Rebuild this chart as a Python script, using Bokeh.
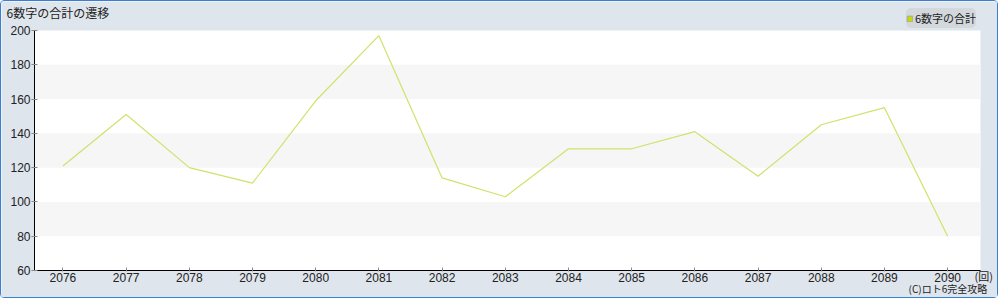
from bokeh.plotting import figure
from bokeh.models import (Range1d, FixedTicker, Label, Legend, LegendItem,
                          ColumnDataSource, LinearAxis)
from bokeh.embed import file_html
from bokeh.resources import INLINE

draws = [2076, 2077, 2078, 2079, 2080, 2081, 2082, 2083, 2084, 2085, 2086, 2087, 2088, 2089, 2090]
sums = [121, 151, 120, 111, 159, 197, 114, 103, 131, 131, 141, 115, 145, 155, 80]
y_ticks = [60, 80, 100, 120, 140, 160, 180, 200]
title_text = "6数字の合計の遷移"
series_name = "6数字の合計"
unit_text = "(回)"
credit_text = "(C)ロト6完全攻略"

FONT = "Noto Sans CJK JP"
BG = "#dfe5ec"
TXT = "#222222"
W, H = 998, 298

# plot-area extent in data units
x0, x1 = draws[0] - 0.45, draws[-1] + 0.52
y0, y1 = y_ticks[0], y_ticks[-1]
# plot area occupies canvas px [33, 979] x [29, 269]; the frame covers the whole canvas
sx = (x1 - x0) / 946.0
sy = (y1 - y0) / 240.0
xr = Range1d(x0 - 33 * sx, x1 + (W - 979) * sx)
yr = Range1d(y0 - (H - 269) * sy, y1 + 29 * sy)

p = figure(width=W, height=H, output_backend="svg", toolbar_location=None,
           x_range=xr, y_range=yr, x_axis_type=None, y_axis_type=None, min_border=0)
p.styles = {"border": "1px solid #3b7fd0", "border-radius": "4px"}
p.border_fill_color = BG
p.background_fill_color = BG
p.outline_line_color = None

# white plot area and light striped bands between alternate y ticks
p.quad(left=[x0], right=[x1], bottom=[y0], top=[y1], fill_color="white", line_color=None)
p.quad(left=x0, right=x1, bottom=y_ticks[1:-1:2], top=y_ticks[2::2],
       fill_color="#f6f6f6", line_color=None)

src = ColumnDataSource(dict(x=draws, y=sums))
p.line("x", "y", source=src, line_color="#cde36a", line_width=1.2)

xaxis = LinearAxis(ticker=FixedTicker(ticks=draws), fixed_location=y0, bounds=(x0, x1))
yaxis = LinearAxis(ticker=FixedTicker(ticks=y_ticks), fixed_location=x0, bounds=(y0, y1))
for ax in (xaxis, yaxis):
    ax.axis_line_color = "black"
    ax.major_tick_line_color = "#888888"
    ax.major_tick_in = 3
    ax.major_tick_out = 3
    ax.minor_tick_line_color = None
    ax.major_label_text_font = "Liberation Sans"
    ax.major_label_text_font_size = "12px"
    ax.major_label_text_color = TXT
xaxis.major_tick_out = 1
xaxis.major_label_standoff = 1
yaxis.major_label_standoff = 1
p.add_layout(xaxis, "below")
p.add_layout(yaxis, "left")

# texts (screen px from the canvas bottom-left)
p.add_layout(Label(x=5, y=287, x_units="screen", y_units="screen", text=title_text,
                   text_baseline="middle", text_font=FONT, text_font_size="12px",
                   text_color=TXT))
p.add_layout(Label(x=973, y=24, x_units="screen", y_units="screen", text=unit_text,
                   text_baseline="middle", text_font=FONT, text_font_size="11px",
                   text_color=TXT))
p.add_layout(Label(x=907, y=11, x_units="screen", y_units="screen", text=credit_text,
                   text_baseline="middle", text_font=FONT, text_font_size="10px",
                   text_color=TXT))

nan = float("nan")
swatch_src = ColumnDataSource(dict(l=[nan], r=[nan], t=[nan], b=[nan]))
swatch = p.quad(left="l", right="r", top="t", bottom="b", source=swatch_src,
                fill_color="#c4dc00", line_color="#a0a8a0", line_width=1)
legend = Legend(items=[LegendItem(label=series_name, renderers=[swatch])],
                location=(905, 271), orientation="horizontal",
                background_fill_color="#d3d8dd", background_fill_alpha=1,
                border_line_color=None, border_radius=5,
                label_text_font=FONT, label_text_font_size="11px", label_text_color=TXT,
                glyph_width=7, glyph_height=7, label_standoff=2,
                padding=4, margin=0, spacing=0, label_height=20)
p.add_layout(legend)

open("out.html", "w").write(file_html(p, INLINE))
